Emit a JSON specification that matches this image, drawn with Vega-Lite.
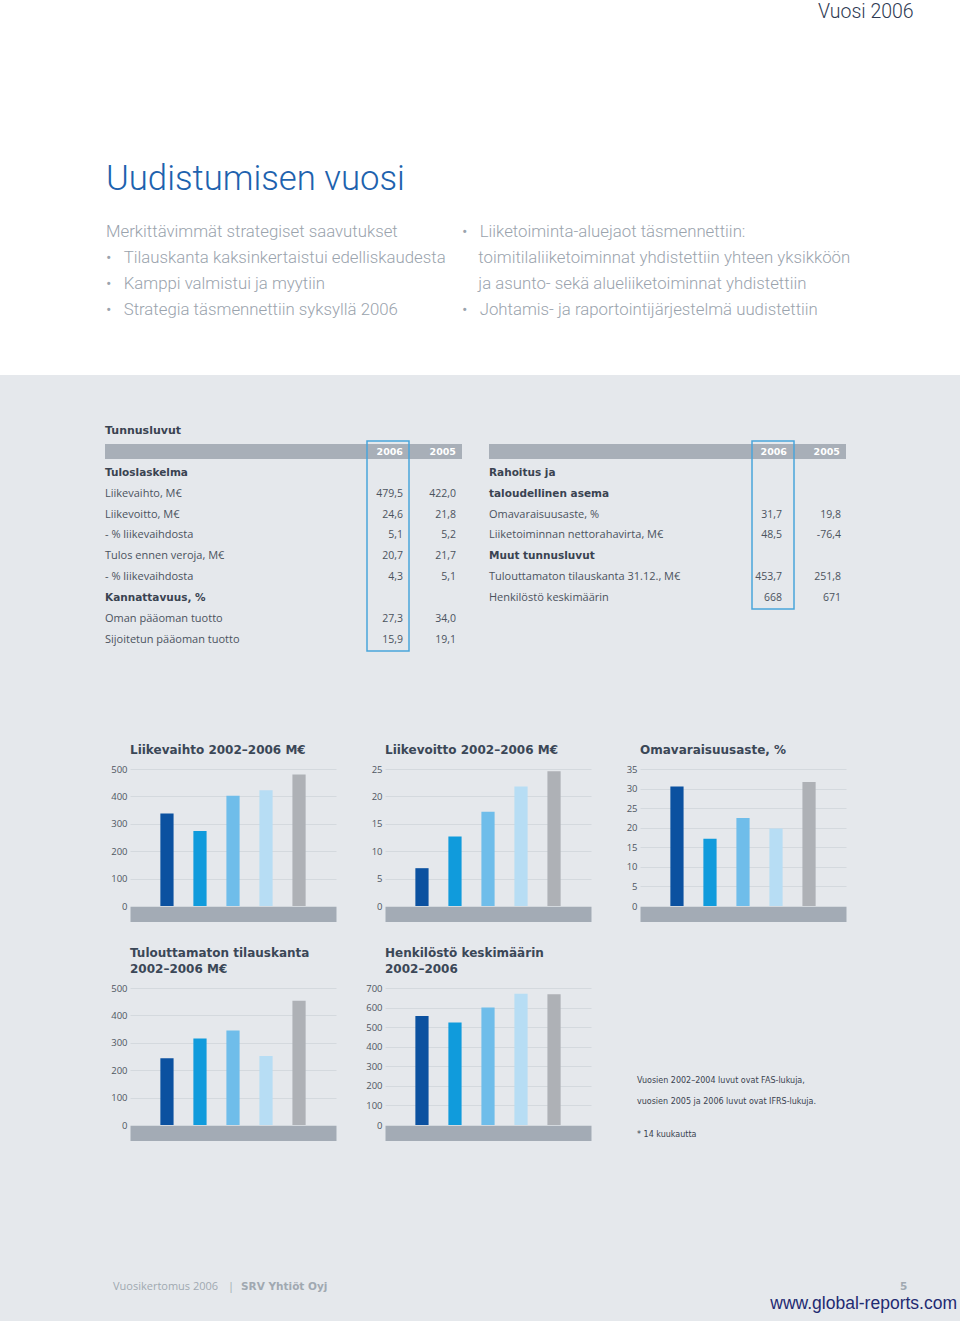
{
  "$schema": "https://vega.github.io/schema/vega-lite/v6.json",
  "background": "#e5e8ec",
  "padding": 0,
  "spacing": 0,
  "config": {"view": {"stroke": null}, "font": "Open Sans"},
  "datasets": {
    "header": [
      {"part": "corner", "col": "corner", "line": 0, "text": "Vuosi 2006"},
      {"part": "title", "col": "left", "line": 13, "text": "Uudistumisen vuosi"},
      {"part": "body", "col": "left", "line": 17, "text": "Merkittävimmät strategiset saavutukset"},
      {"part": "body", "col": "left", "line": 19, "text": "•\u00a0\u00a0\u00a0Tilauskanta kaksinkertaistui edelliskaudesta"},
      {"part": "body", "col": "left", "line": 21, "text": "•\u00a0\u00a0\u00a0Kamppi valmistui ja myytiin"},
      {"part": "body", "col": "left", "line": 23, "text": "•\u00a0\u00a0\u00a0Strategia täsmennettiin syksyllä 2006"},
      {"part": "body", "col": "right", "line": 17, "text": "•\u00a0\u00a0\u00a0Liiketoiminta-aluejaot täsmennettiin:"},
      {"part": "body", "col": "right", "line": 19, "text": "\u200b\u00a0\u00a0\u00a0\u00a0toimitilaliiketoiminnat yhdistettiin yhteen yksikköön"},
      {"part": "body", "col": "right", "line": 21, "text": "\u200b\u00a0\u00a0\u00a0\u00a0ja asunto- sekä alueliiketoiminnat yhdistettiin"},
      {"part": "body", "col": "right", "line": 23, "text": "•\u00a0\u00a0\u00a0Johtamis- ja raportointijärjestelmä uudistettiin"}
    ],
    "tables": [
      {"t": "L", "row": 2, "kind": "title", "col": "label", "text": "Tunnusluvut"},
      {"t": "L", "row": 3, "kind": "head", "col": "2006", "text": "2006"},
      {"t": "L", "row": 3, "kind": "head", "col": "2005", "text": "2005"},
      {"t": "L", "row": 4, "kind": "section", "col": "label", "text": "Tuloslaskelma"},
      {"t": "L", "row": 5, "kind": "item", "col": "label", "text": "Liikevaihto, M€"},
      {"t": "L", "row": 5, "kind": "value", "col": "2006", "text": "479,5"},
      {"t": "L", "row": 5, "kind": "value", "col": "2005", "text": "422,0"},
      {"t": "L", "row": 6, "kind": "item", "col": "label", "text": "Liikevoitto, M€"},
      {"t": "L", "row": 6, "kind": "value", "col": "2006", "text": "24,6"},
      {"t": "L", "row": 6, "kind": "value", "col": "2005", "text": "21,8"},
      {"t": "L", "row": 7, "kind": "item", "col": "label", "text": "- % liikevaihdosta"},
      {"t": "L", "row": 7, "kind": "value", "col": "2006", "text": "5,1"},
      {"t": "L", "row": 7, "kind": "value", "col": "2005", "text": "5,2"},
      {"t": "L", "row": 8, "kind": "item", "col": "label", "text": "Tulos ennen veroja, M€"},
      {"t": "L", "row": 8, "kind": "value", "col": "2006", "text": "20,7"},
      {"t": "L", "row": 8, "kind": "value", "col": "2005", "text": "21,7"},
      {"t": "L", "row": 9, "kind": "item", "col": "label", "text": "- % liikevaihdosta"},
      {"t": "L", "row": 9, "kind": "value", "col": "2006", "text": "4,3"},
      {"t": "L", "row": 9, "kind": "value", "col": "2005", "text": "5,1"},
      {"t": "L", "row": 10, "kind": "section", "col": "label", "text": "Kannattavuus, %"},
      {"t": "L", "row": 11, "kind": "item", "col": "label", "text": "Oman pääoman tuotto"},
      {"t": "L", "row": 11, "kind": "value", "col": "2006", "text": "27,3"},
      {"t": "L", "row": 11, "kind": "value", "col": "2005", "text": "34,0"},
      {"t": "L", "row": 12, "kind": "item", "col": "label", "text": "Sijoitetun pääoman tuotto"},
      {"t": "L", "row": 12, "kind": "value", "col": "2006", "text": "15,9"},
      {"t": "L", "row": 12, "kind": "value", "col": "2005", "text": "19,1"},
      {"t": "R", "row": 3, "kind": "head", "col": "2006", "text": "2006"},
      {"t": "R", "row": 3, "kind": "head", "col": "2005", "text": "2005"},
      {"t": "R", "row": 4, "kind": "section", "col": "label", "text": "Rahoitus ja"},
      {"t": "R", "row": 5, "kind": "section", "col": "label", "text": "taloudellinen asema"},
      {"t": "R", "row": 6, "kind": "item", "col": "label", "text": "Omavaraisuusaste, %"},
      {"t": "R", "row": 6, "kind": "value", "col": "2006", "text": "31,7"},
      {"t": "R", "row": 6, "kind": "value", "col": "2005", "text": "19,8"},
      {"t": "R", "row": 7, "kind": "item", "col": "label", "text": "Liiketoiminnan nettorahavirta, M€"},
      {"t": "R", "row": 7, "kind": "value", "col": "2006", "text": "48,5"},
      {"t": "R", "row": 7, "kind": "value", "col": "2005", "text": "-76,4"},
      {"t": "R", "row": 8, "kind": "section", "col": "label", "text": "Muut tunnusluvut"},
      {"t": "R", "row": 9, "kind": "item", "col": "label", "text": "Tulouttamaton tilauskanta 31.12., M€"},
      {"t": "R", "row": 9, "kind": "value", "col": "2006", "text": "453,7"},
      {"t": "R", "row": 9, "kind": "value", "col": "2005", "text": "251,8"},
      {"t": "R", "row": 10, "kind": "item", "col": "label", "text": "Henkilöstö keskimäärin"},
      {"t": "R", "row": 10, "kind": "value", "col": "2006", "text": "668"},
      {"t": "R", "row": 10, "kind": "value", "col": "2005", "text": "671"}
    ],
    "bars": [
      {"chart": "lv", "label": "2002*", "yr": 2002, "value": 338},
      {"chart": "lv", "label": "2003", "yr": 2003, "value": 274},
      {"chart": "lv", "label": "2004", "yr": 2004, "value": 402},
      {"chart": "lv", "label": "2005", "yr": 2005, "value": 422.0},
      {"chart": "lv", "label": "2006", "yr": 2006, "value": 479.5},
      {"chart": "lo", "label": "2002*", "yr": 2002, "value": 6.9},
      {"chart": "lo", "label": "2003", "yr": 2003, "value": 12.7},
      {"chart": "lo", "label": "2004", "yr": 2004, "value": 17.2},
      {"chart": "lo", "label": "2005", "yr": 2005, "value": 21.8},
      {"chart": "lo", "label": "2006", "yr": 2006, "value": 24.6},
      {"chart": "ov", "label": "2002", "yr": 2002, "value": 30.5},
      {"chart": "ov", "label": "2003", "yr": 2003, "value": 17.2},
      {"chart": "ov", "label": "2004", "yr": 2004, "value": 22.5},
      {"chart": "ov", "label": "2005", "yr": 2005, "value": 19.8},
      {"chart": "ov", "label": "2006", "yr": 2006, "value": 31.7},
      {"chart": "tk", "label": "2002", "yr": 2002, "value": 244},
      {"chart": "tk", "label": "2003", "yr": 2003, "value": 316},
      {"chart": "tk", "label": "2004", "yr": 2004, "value": 345},
      {"chart": "tk", "label": "2005", "yr": 2005, "value": 251.8},
      {"chart": "tk", "label": "2006", "yr": 2006, "value": 453.7},
      {"chart": "hk", "label": "2002", "yr": 2002, "value": 557},
      {"chart": "hk", "label": "2003", "yr": 2003, "value": 524},
      {"chart": "hk", "label": "2004", "yr": 2004, "value": 601},
      {"chart": "hk", "label": "2005", "yr": 2005, "value": 671},
      {"chart": "hk", "label": "2006", "yr": 2006, "value": 668}
    ],
    "note": [
      {"line": 8, "text": "Vuosien 2002–2004 luvut ovat FAS-lukuja,"},
      {"line": 10, "text": "vuosien 2005 ja 2006 luvut ovat IFRS-lukuja."},
      {"line": 13, "text": "* 14 kuukautta"}
    ],
    "footer": [
      {"item": "report", "line": 0, "text": "Vuosikertomus 2006"},
      {"item": "sep", "line": 0, "text": "|"},
      {"item": "company", "line": 0, "text": "SRV Yhtiöt Oyj"},
      {"item": "page", "line": 0, "text": "5"},
      {"item": "url", "line": 1, "text": "www.global-reports.com"}
    ]
  },
  "vconcat": [
    {
      "width": 960, "height": 375,
      "view": {"fill": "#ffffff", "stroke": null},
      "data": {"name": "header"},
      "encoding": {
        "x": {"field": "col", "type": "nominal", "scale": {"type": "point", "domain": ["left", "right", "corner"], "range": [106, 818], "padding": 0}, "axis": null},
        "y": {"field": "line", "type": "quantitative", "scale": {"domain": [0, 23], "range": [12, 310]}, "axis": null},
        "text": {"field": "text"}
      },
      "layer": [
        {"transform": [{"filter": "datum.part === 'corner'"}], "mark": {"type": "text", "align": "left", "baseline": "middle", "font": "Roboto", "fontWeight": 300, "fontSize": 19.5, "color": "#2e3a52"}},
        {"transform": [{"filter": "datum.part === 'title'"}], "mark": {"type": "text", "align": "left", "baseline": "middle", "font": "Roboto", "fontWeight": 300, "fontSize": 34.7, "color": "#1d62ae"}},
        {"transform": [{"filter": "datum.part === 'body'"}], "mark": {"type": "text", "align": "left", "baseline": "middle", "font": "Roboto", "fontWeight": 300, "fontSize": 16.8, "color": "#9aa3ad"}}
      ]
    },
    {
      "spacing": 27,
      "hconcat": [
        {"width": 78, "height": 1, "data": {"values": []}, "mark": "point", "encoding": {}},
        {
          "width": 357, "height": 279,
          "data": {"name": "tables"},
          "transform": [{"filter": "datum.t === 'L'"}],
          "resolve": {"scale": {"x": "independent"}},
          "layer": [
            {"transform": [{"filter": "datum.kind === 'head' && datum.col === '2006'"}],
             "mark": {"type": "bar", "color": "#a8afb8", "height": {"band": 0.72}},
             "encoding": {"y": {"field": "row", "type": "ordinal", "scale": {"type": "band", "domain": [0,1,2,3,4,5,6,7,8,9,10,11,12], "paddingInner": 0, "paddingOuter": 0.143},
               "axis": {"title": null, "labels": false, "ticks": false, "domain": false, "grid": true, "gridColor": "#9fcde8", "gridWidth": 1, "values": [4,5,6,7,8,9,10,11,12], "bandPosition": 1}}}},
            {"transform": [{"filter": "datum.kind === 'head' && datum.col === '2006'"}],
             "mark": {"type": "bar", "filled": false, "color": "#4aa5da", "strokeWidth": 1.5},
             "encoding": {
               "x": {"field": "col", "type": "nominal", "scale": {"type": "band", "domain": ["2006", "2005"], "range": [262, 357], "paddingInner": 0.2075, "paddingOuter": 0}, "axis": null},
               "y": {"datum": 3, "type": "ordinal", "bandPosition": 0, "axis": null},
               "y2": {"datum": 12, "bandPosition": 1}}},
            {"transform": [{"filter": "datum.kind === 'title'"}],
             "mark": {"type": "text", "align": "left", "baseline": "middle", "font": "DejaVu Sans", "fontWeight": "bold", "fontSize": 11, "color": "#3a4351"},
             "encoding": {"x": {"datum": "label", "type": "nominal", "scale": {"type": "band", "domain": ["label"], "paddingInner": 0, "paddingOuter": 0}, "bandPosition": 0, "axis": null},
               "y": {"field": "row", "type": "ordinal", "axis": null}, "text": {"field": "text"}}},
            {"transform": [{"filter": "datum.kind === 'section'"}],
             "mark": {"type": "text", "align": "left", "baseline": "middle", "font": "DejaVu Sans", "fontWeight": "bold", "fontSize": 10.5, "color": "#3a4351"},
             "encoding": {"x": {"datum": "label", "type": "nominal", "scale": {"type": "band", "domain": ["label"], "paddingInner": 0, "paddingOuter": 0}, "bandPosition": 0, "axis": null},
               "y": {"field": "row", "type": "ordinal", "axis": null}, "text": {"field": "text"}}},
            {"transform": [{"filter": "datum.kind === 'item'"}],
             "mark": {"type": "text", "align": "left", "baseline": "middle", "font": "Open Sans", "fontSize": 11, "color": "#4b535e"},
             "encoding": {"x": {"datum": "label", "type": "nominal", "scale": {"type": "band", "domain": ["label"], "paddingInner": 0, "paddingOuter": 0}, "bandPosition": 0, "axis": null},
               "y": {"field": "row", "type": "ordinal", "axis": null}, "text": {"field": "text"}}},
            {"transform": [{"filter": "datum.kind === 'head'"}],
             "mark": {"type": "text", "align": "right", "baseline": "middle", "font": "DejaVu Sans", "fontWeight": "bold", "fontSize": 9.5, "color": "#ffffff"},
             "encoding": {"x": {"field": "col", "type": "nominal", "scale": {"type": "band", "domain": ["2006", "2005"], "range": [262, 357], "paddingInner": 0.2075, "paddingOuter": 0}, "bandPosition": 0.857, "axis": null},
               "y": {"field": "row", "type": "ordinal", "axis": null}, "text": {"field": "text"}}},
            {"transform": [{"filter": "datum.kind === 'value'"}],
             "mark": {"type": "text", "align": "right", "baseline": "middle", "font": "Open Sans", "fontSize": 10.5, "color": "#4b535e"},
             "encoding": {"x": {"field": "col", "type": "nominal", "scale": {"type": "band", "domain": ["2006", "2005"], "range": [262, 357], "paddingInner": 0.2075, "paddingOuter": 0}, "bandPosition": 0.857, "axis": null},
               "y": {"field": "row", "type": "ordinal", "axis": null}, "text": {"field": "text"}}}
          ]
        },
        {
          "width": 357, "height": 279,
          "data": {"name": "tables"},
          "transform": [{"filter": "datum.t === 'R'"}],
          "resolve": {"scale": {"x": "independent"}},
          "layer": [
            {"transform": [{"filter": "datum.kind === 'head' && datum.col === '2006'"}],
             "mark": {"type": "bar", "color": "#a8afb8", "height": {"band": 0.72}},
             "encoding": {"y": {"field": "row", "type": "ordinal", "scale": {"type": "band", "domain": [0,1,2,3,4,5,6,7,8,9,10,11,12], "paddingInner": 0, "paddingOuter": 0.143},
               "axis": {"title": null, "labels": false, "ticks": false, "domain": false, "grid": true, "gridColor": "#9fcde8", "gridWidth": 1, "values": [5,6,7,8,9,10], "bandPosition": 1}}}},
            {"transform": [{"filter": "datum.kind === 'head' && datum.col === '2006'"}],
             "mark": {"type": "bar", "filled": false, "color": "#4aa5da", "strokeWidth": 1.5},
             "encoding": {
               "x": {"field": "col", "type": "nominal", "scale": {"type": "band", "domain": ["2006", "2005"], "range": [263, 358], "paddingInner": 0.2075, "paddingOuter": 0}, "axis": null},
               "y": {"datum": 3, "type": "ordinal", "bandPosition": 0, "axis": null},
               "y2": {"datum": 10, "bandPosition": 1}}},
            {"transform": [{"filter": "datum.kind === 'section'"}],
             "mark": {"type": "text", "align": "left", "baseline": "middle", "font": "DejaVu Sans", "fontWeight": "bold", "fontSize": 10.5, "color": "#3a4351"},
             "encoding": {"x": {"datum": "label", "type": "nominal", "scale": {"type": "band", "domain": ["label"], "paddingInner": 0, "paddingOuter": 0}, "bandPosition": 0, "axis": null},
               "y": {"field": "row", "type": "ordinal", "axis": null}, "text": {"field": "text"}}},
            {"transform": [{"filter": "datum.kind === 'item'"}],
             "mark": {"type": "text", "align": "left", "baseline": "middle", "font": "Open Sans", "fontSize": 11, "color": "#4b535e"},
             "encoding": {"x": {"datum": "label", "type": "nominal", "scale": {"type": "band", "domain": ["label"], "paddingInner": 0, "paddingOuter": 0}, "bandPosition": 0, "axis": null},
               "y": {"field": "row", "type": "ordinal", "axis": null}, "text": {"field": "text"}}},
            {"transform": [{"filter": "datum.kind === 'head'"}],
             "mark": {"type": "text", "align": "right", "baseline": "middle", "font": "DejaVu Sans", "fontWeight": "bold", "fontSize": 9.5, "color": "#ffffff"},
             "encoding": {"x": {"field": "col", "type": "nominal", "scale": {"type": "band", "domain": ["2006", "2005"], "range": [262, 357], "paddingInner": 0.2075, "paddingOuter": 0}, "bandPosition": 0.857, "axis": null},
               "y": {"field": "row", "type": "ordinal", "axis": null}, "text": {"field": "text"}}},
            {"transform": [{"filter": "datum.kind === 'value' && datum.col === '2006'"}],
             "mark": {"type": "text", "align": "right", "baseline": "middle", "font": "Open Sans", "fontSize": 10.5, "color": "#4b535e"},
             "encoding": {"x": {"field": "col", "type": "nominal", "scale": {"type": "band", "domain": ["2006", "2005"], "range": [262, 357], "paddingInner": 0.2075, "paddingOuter": 0}, "bandPosition": 0.74, "axis": null},
               "y": {"field": "row", "type": "ordinal", "axis": null}, "text": {"field": "text"}}},
            {"transform": [{"filter": "datum.kind === 'value' && datum.col === '2005'"}],
             "mark": {"type": "text", "align": "right", "baseline": "middle", "font": "Open Sans", "fontSize": 10.5, "color": "#4b535e"},
             "encoding": {"x": {"field": "col", "type": "nominal", "scale": {"type": "band", "domain": ["2006", "2005"], "range": [262, 357], "paddingInner": 0.2075, "paddingOuter": 0}, "bandPosition": 0.88, "axis": null},
               "y": {"field": "row", "type": "ordinal", "axis": null}, "text": {"field": "text"}}}
          ]
        }
      ]
    },
    {"width": 1, "height": 90, "data": {"values": []}, "mark": "point", "encoding": {}},
    {
      "spacing": 27,
      "hconcat": [
        {"width": 81, "height": 1, "data": {"values": []}, "mark": "point", "encoding": {}},
        {
          "width": 206, "height": 137,
          "title": {"text": "Liikevaihto 2002–2006 M€", "anchor": "start", "frame": "group", "font": "DejaVu Sans", "fontSize": 12, "fontWeight": "bold", "color": "#3b4757", "baseline": "bottom", "offset": -5},
          "data": {"name": "bars"},
          "transform": [{"filter": "datum.chart === 'lv'"}],
          "mark": {"type": "bar"},
          "encoding": {
            "x": {"field": "label", "type": "ordinal", "sort": null, "scale": {"paddingInner": 0.6, "paddingOuter": 0.92},
              "axis": {"title": null, "orient": "bottom", "offset": 8, "domainColor": "#a3abb5", "domainWidth": 15, "ticks": false, "tickSize": 0, "labelPadding": 0, "labelBaseline": "middle", "labelAngle": 0, "labelColor": "#f4f6f8", "labelFont": "Open Sans", "labelFontSize": 9.5, "grid": false}},
            "y": {"field": "value", "type": "quantitative", "scale": {"domain": [0, 500], "nice": false},
              "axis": {"title": null, "values": [0, 100, 200, 300, 400, 500], "domain": false, "ticks": false, "grid": true, "gridColor": "#d4d9de", "labelFont": "Open Sans", "labelFontSize": 9.5, "labelColor": "#4f5762", "labelPadding": 3, "minExtent": 22, "maxExtent": 22}},
            "color": {"field": "yr", "type": "ordinal", "scale": {"domain": [2002, 2003, 2004, 2005, 2006], "range": ["#0b51a0", "#109bdc", "#6fbdea", "#b7ddf4", "#aeb1b6"]}, "legend": null}
          }
        },
        {
          "width": 206, "height": 137,
          "title": {"text": "Liikevoitto 2002–2006 M€", "anchor": "start", "frame": "group", "font": "DejaVu Sans", "fontSize": 12, "fontWeight": "bold", "color": "#3b4757", "baseline": "bottom", "offset": -5},
          "data": {"name": "bars"},
          "transform": [{"filter": "datum.chart === 'lo'"}],
          "mark": {"type": "bar"},
          "encoding": {
            "x": {"field": "label", "type": "ordinal", "sort": null, "scale": {"paddingInner": 0.6, "paddingOuter": 0.92},
              "axis": {"title": null, "orient": "bottom", "offset": 8, "domainColor": "#a3abb5", "domainWidth": 15, "ticks": false, "tickSize": 0, "labelPadding": 0, "labelBaseline": "middle", "labelAngle": 0, "labelColor": "#f4f6f8", "labelFont": "Open Sans", "labelFontSize": 9.5, "grid": false}},
            "y": {"field": "value", "type": "quantitative", "scale": {"domain": [0, 25], "nice": false},
              "axis": {"title": null, "values": [0, 5, 10, 15, 20, 25], "domain": false, "ticks": false, "grid": true, "gridColor": "#d4d9de", "labelFont": "Open Sans", "labelFontSize": 9.5, "labelColor": "#4f5762", "labelPadding": 3, "minExtent": 22, "maxExtent": 22}},
            "color": {"field": "yr", "type": "ordinal", "scale": {"domain": [2002, 2003, 2004, 2005, 2006], "range": ["#0b51a0", "#109bdc", "#6fbdea", "#b7ddf4", "#aeb1b6"]}, "legend": null}
          }
        },
        {
          "width": 206, "height": 137,
          "title": {"text": "Omavaraisuusaste, %", "anchor": "start", "frame": "group", "font": "DejaVu Sans", "fontSize": 12, "fontWeight": "bold", "color": "#3b4757", "baseline": "bottom", "offset": -5},
          "data": {"name": "bars"},
          "transform": [{"filter": "datum.chart === 'ov'"}],
          "mark": {"type": "bar"},
          "encoding": {
            "x": {"field": "label", "type": "ordinal", "sort": null, "scale": {"paddingInner": 0.6, "paddingOuter": 0.92},
              "axis": {"title": null, "orient": "bottom", "offset": 8, "domainColor": "#a3abb5", "domainWidth": 15, "ticks": false, "tickSize": 0, "labelPadding": 0, "labelBaseline": "middle", "labelAngle": 0, "labelColor": "#f4f6f8", "labelFont": "Open Sans", "labelFontSize": 9.5, "grid": false}},
            "y": {"field": "value", "type": "quantitative", "scale": {"domain": [0, 35], "nice": false},
              "axis": {"title": null, "values": [0, 5, 10, 15, 20, 25, 30, 35], "domain": false, "ticks": false, "grid": true, "gridColor": "#d4d9de", "labelFont": "Open Sans", "labelFontSize": 9.5, "labelColor": "#4f5762", "labelPadding": 3, "minExtent": 22, "maxExtent": 22}},
            "color": {"field": "yr", "type": "ordinal", "scale": {"domain": [2002, 2003, 2004, 2005, 2006], "range": ["#0b51a0", "#109bdc", "#6fbdea", "#b7ddf4", "#aeb1b6"]}, "legend": null}
          }
        }
      ]
    },
    {"width": 1, "height": 28, "data": {"values": []}, "mark": "point", "encoding": {}},
    {
      "spacing": 27,
      "hconcat": [
        {"width": 81, "height": 1, "data": {"values": []}, "mark": "point", "encoding": {}},
        {
          "width": 206, "height": 137,
          "title": {"text": ["Tulouttamaton tilauskanta", "2002–2006 M€"], "anchor": "start", "frame": "group", "font": "DejaVu Sans", "fontSize": 12, "fontWeight": "bold", "color": "#3b4757", "baseline": "bottom", "offset": -5, "lineHeight": 16},
          "data": {"name": "bars"},
          "transform": [{"filter": "datum.chart === 'tk'"}],
          "mark": {"type": "bar"},
          "encoding": {
            "x": {"field": "label", "type": "ordinal", "sort": null, "scale": {"paddingInner": 0.6, "paddingOuter": 0.92},
              "axis": {"title": null, "orient": "bottom", "offset": 8, "domainColor": "#a3abb5", "domainWidth": 15, "ticks": false, "tickSize": 0, "labelPadding": 0, "labelBaseline": "middle", "labelAngle": 0, "labelColor": "#f4f6f8", "labelFont": "Open Sans", "labelFontSize": 9.5, "grid": false}},
            "y": {"field": "value", "type": "quantitative", "scale": {"domain": [0, 500], "nice": false},
              "axis": {"title": null, "values": [0, 100, 200, 300, 400, 500], "domain": false, "ticks": false, "grid": true, "gridColor": "#d4d9de", "labelFont": "Open Sans", "labelFontSize": 9.5, "labelColor": "#4f5762", "labelPadding": 3, "minExtent": 22, "maxExtent": 22}},
            "color": {"field": "yr", "type": "ordinal", "scale": {"domain": [2002, 2003, 2004, 2005, 2006], "range": ["#0b51a0", "#109bdc", "#6fbdea", "#b7ddf4", "#aeb1b6"]}, "legend": null}
          }
        },
        {
          "width": 206, "height": 137,
          "title": {"text": ["Henkilöstö keskimäärin", "2002–2006"], "anchor": "start", "frame": "group", "font": "DejaVu Sans", "fontSize": 12, "fontWeight": "bold", "color": "#3b4757", "baseline": "bottom", "offset": -5, "lineHeight": 16},
          "data": {"name": "bars"},
          "transform": [{"filter": "datum.chart === 'hk'"}],
          "mark": {"type": "bar"},
          "encoding": {
            "x": {"field": "label", "type": "ordinal", "sort": null, "scale": {"paddingInner": 0.6, "paddingOuter": 0.92},
              "axis": {"title": null, "orient": "bottom", "offset": 8, "domainColor": "#a3abb5", "domainWidth": 15, "ticks": false, "tickSize": 0, "labelPadding": 0, "labelBaseline": "middle", "labelAngle": 0, "labelColor": "#f4f6f8", "labelFont": "Open Sans", "labelFontSize": 9.5, "grid": false}},
            "y": {"field": "value", "type": "quantitative", "scale": {"domain": [0, 700], "nice": false},
              "axis": {"title": null, "values": [0, 100, 200, 300, 400, 500, 600, 700], "domain": false, "ticks": false, "grid": true, "gridColor": "#d4d9de", "labelFont": "Open Sans", "labelFontSize": 9.5, "labelColor": "#4f5762", "labelPadding": 3, "minExtent": 22, "maxExtent": 22}},
            "color": {"field": "yr", "type": "ordinal", "scale": {"domain": [2002, 2003, 2004, 2005, 2006], "range": ["#0b51a0", "#109bdc", "#6fbdea", "#b7ddf4", "#aeb1b6"]}, "legend": null}
          }
        },
        {
          "width": 230, "height": 152.6,
          "data": {"name": "note"},
          "mark": {"type": "text", "align": "left", "baseline": "middle", "font": "DejaVu Sans", "fontSize": 8, "color": "#3a4350"},
          "encoding": {
            "x": {"datum": "note", "type": "nominal", "scale": {"type": "band", "domain": ["note"], "paddingInner": 0, "paddingOuter": 0}, "bandPosition": 0, "axis": null},
            "y": {"field": "line", "type": "ordinal", "scale": {"type": "band", "domain": [0,1,2,3,4,5,6,7,8,9,10,11,12,13], "paddingInner": 0, "paddingOuter": 0},
              "axis": {"title": null, "labels": false, "ticks": false, "domain": false, "grid": false, "minExtent": 19, "maxExtent": 19}},
            "text": {"field": "text"}
          }
        }
      ]
    },
    {
      "width": 960, "height": 180,
      "data": {"name": "footer"},
      "resolve": {"scale": {"x": "independent"}},
      "encoding": {
        "y": {"field": "line", "type": "quantitative", "scale": {"domain": [0, 1], "range": [146, 163]}, "axis": null},
        "text": {"field": "text"}
      },
      "layer": [
        {"transform": [{"filter": "datum.item === 'report' || datum.item === 'sep'"}],
         "mark": {"type": "text", "align": "left", "baseline": "middle", "font": "Open Sans", "fontSize": 11, "color": "#a0a8b1"},
         "encoding": {"x": {"field": "item", "type": "nominal", "scale": {"type": "point", "domain": ["report", "sep"], "range": [113, 228], "padding": 0}, "axis": null}}},
        {"transform": [{"filter": "datum.item === 'company' || datum.item === 'page'"}],
         "mark": {"type": "text", "align": "left", "baseline": "middle", "font": "DejaVu Sans", "fontWeight": "bold", "fontSize": 10.5, "color": "#a0a8b1"},
         "encoding": {"x": {"field": "item", "type": "nominal", "scale": {"type": "point", "domain": ["company", "page"], "range": [241, 900], "padding": 0}, "axis": null}}},
        {"transform": [{"filter": "datum.item === 'url'"}],
         "mark": {"type": "text", "align": "right", "baseline": "middle", "font": "Liberation Sans", "fontSize": 17.5, "color": "#1f2b72"},
         "encoding": {"x": {"field": "item", "type": "nominal", "scale": {"type": "point", "domain": ["url"], "range": [957, 957], "padding": 0}, "axis": null}}}
      ]
    }
  ]
}
